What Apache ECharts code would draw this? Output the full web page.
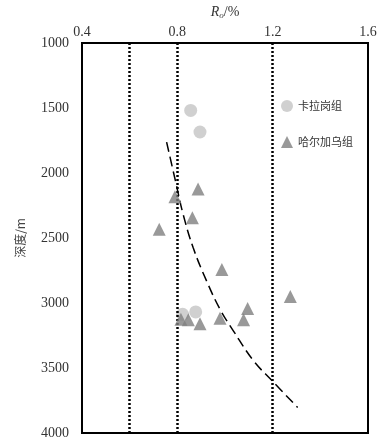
<!DOCTYPE html>
<html><head><meta charset="utf-8">
<script src="https://cdn.jsdelivr.net/npm/echarts@6/dist/echarts.min.js"></script>
<style>html,body{margin:0;padding:0;background:#fff}#c{width:380px;height:448px}</style>
</head><body><div id="c"></div>
<script>
const xTicks = [0.4, 0.8, 1.2, 1.6];
const yTicks = [1000, 1500, 2000, 2500, 3000, 3500, 4000];
const refLines = [0.6, 0.8, 1.2];
const seriesNames = ['卡拉岗组', '哈尔加乌组'];
const kalagangR = [0.856, 0.895, 0.822, 0.877];
const kalagangDepth = [1519, 1685, 3087, 3069];
const haerjiawuR = [0.887, 0.790, 0.863, 0.724, 0.987, 1.274, 1.095, 0.815, 0.846, 0.895, 0.979, 1.078];
const haerjiawuDepth = [2124, 2183, 2344, 2433, 2743, 2950, 3043, 3125, 3130, 3160, 3117, 3130];
const trendR = [0.755, 0.793, 0.825, 0.867, 0.923, 0.979, 1.035, 1.119, 1.196, 1.305];
const trendDepth = [1763, 2069, 2323, 2578, 2832, 3048, 3214, 3443, 3595, 3804];

const zip = (a, b) => a.map((v, i) => [v, b[i]]);
const serif = '"Liberation Serif", "Times New Roman", serif';
const chart = echarts.init(document.getElementById('c'));
chart.setOption({
  backgroundColor: '#fff',
  animation: false,
  grid: { left: 82, right: 12, top: 40, bottom: 15, show: true, borderColor: '#000', borderWidth: 2, backgroundColor: 'transparent' },
  xAxis: {
    type: 'value', position: 'top', min: xTicks[0], max: xTicks[xTicks.length - 1], interval: 0.4,
    name: '{r|R}{s|o}{n|/%}', nameLocation: 'middle', nameGap: 22,
    nameTextStyle: { rich: {
      r: { fontFamily: serif, fontStyle: 'italic', fontSize: 14, color: '#333' },
      s: { fontFamily: serif, fontStyle: 'italic', fontSize: 9, color: '#333', verticalAlign: 'bottom', padding: [7, 0, 0, 0] },
      n: { fontFamily: serif, fontSize: 14, color: '#333' } } },
    axisLine: { show: true, lineStyle: { color: '#000', width: 2 } },
    axisTick: { show: false }, splitLine: { show: false },
    axisLabel: { fontFamily: serif, fontSize: 14, color: '#333', margin: 4, formatter: v => v.toFixed(1) }
  },
  yAxis: {
    type: 'value', inverse: true, min: yTicks[0], max: yTicks[yTicks.length - 1], interval: 500,
    name: '深度/m', nameLocation: 'middle', nameGap: 56, nameRotate: 90,
    nameTextStyle: { fontFamily: '"Noto Sans CJK SC", serif', fontSize: 12, color: '#444' },
    axisLine: { show: true, lineStyle: { color: '#000', width: 2 } },
    axisTick: { show: false }, splitLine: { show: false },
    axisLabel: { fontFamily: serif, fontSize: 14, color: '#333', margin: 13, formatter: v => String(v) }
  },
  legend: {
    orient: 'vertical', left: 276, top: 95, itemGap: 24, itemWidth: 12, itemHeight: 12,
    textStyle: { fontFamily: '"Noto Sans CJK SC", sans-serif', fontSize: 11, color: '#333' },
    data: [{ name: seriesNames[0], icon: 'circle' }, { name: seriesNames[1], icon: 'triangle' }]
  },
  series: [
    { type: 'line', data: [], silent: true,
      markLine: { symbol: 'none', silent: true, label: { show: false },
        lineStyle: { color: '#000', type: [2, 2], width: 2.5 },
        data: refLines.map(v => ({ xAxis: v })) } },
    { type: 'line', data: zip(trendR, trendDepth), smooth: 0.4, symbol: 'none',
      lineStyle: { color: '#000', width: 1.5, type: [10, 5] }, z: 3 },
    { name: seriesNames[0], type: 'scatter', symbol: 'circle', symbolSize: 13,
      itemStyle: { color: '#c4c4c4' }, data: zip(kalagangR, kalagangDepth), z: 4 },
    { name: seriesNames[1], type: 'scatter', symbol: 'triangle', symbolSize: 13,
      itemStyle: { color: '#7f7f7f' }, data: zip(haerjiawuR, haerjiawuDepth), z: 5 }
  ]
});
</script></body></html>
